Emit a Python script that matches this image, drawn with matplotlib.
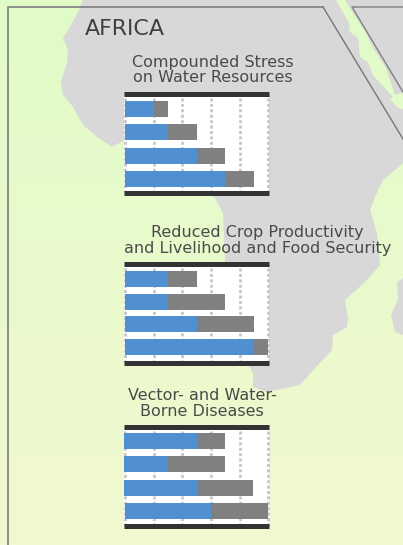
import numpy as np
import matplotlib
matplotlib.use("Agg")
import matplotlib.pyplot as plt

W, H = 403, 545

# Bar values: blue part, and where the grey part ends.
titles = [
    "Compounded Stress\non Water Resources",
    "Reduced Crop Productivity\nand Livelihood and Food Security",
    "Vector- and Water-\nBorne Diseases",
]
blue_end = [
    [1.0, 1.5, 2.5, 3.5],
    [1.5, 1.5, 2.5, 4.45],
    [2.5, 1.5, 2.5, 3.0],
]
grey_end = [
    [1.5, 2.5, 3.5, 4.5],
    [2.5, 3.5, 4.5, 5.0],
    [3.5, 3.5, 4.45, 5.0],
]
bar_start = [
    [0, 0, 0, 0],
    [0, 0, 0, 0],
    [-0.03, -0.03, -0.03, 0],
]
ticks = [0, 1, 2, 3, 4, 5]

# Map outlines, in image pixels.
africa = [(83, 0), (78, 12), (72, 23), (63, 38), (68, 50), (67, 63), (61, 81), (63, 95), (73, 107),
          (83, 125), (97, 137), (112, 147), (125, 140), (160, 150), (195, 180), (215, 198), (223, 213),
          (225, 260), (228, 300), (240, 345), (247, 363), (253, 373), (253, 387), (267, 392), (300, 385),
          (318, 365), (332, 350), (333, 335), (347, 327), (348, 318), (345, 300), (365, 282), (380, 265),
          (377, 233), (370, 210), (378, 190), (383, 180), (403, 163),
          (403, 109), (398, 108), (390, 99), (393, 97), (380, 83), (373, 75), (368, 62), (360, 57),
          (358, 38), (350, 32), (349, 23), (336, 0)]
arabia = [(345, 0), (353, 13), (366, 33), (373, 48), (386, 68), (395, 95), (403, 93), (403, 0)]
madagascar = [(403, 278), (397, 283), (398, 300), (391, 315), (395, 332), (403, 335)]
frame_1 = [(8, 545), (8, 7), (323, 7)]
frame_2 = [(323, 7), (403, 139)]
frame_3 = [(403, 7), (352, 7), (403, 92)]

chart_tops = [94.5, 263.5, 426.5]
chart_height = 99
chart_ylims = [(3.62, -0.62), (3.683, -0.684), (3.62, -0.62)]
bar_heights = [0.686, 0.706, 0.686]
title_y = [62, 232, 395]
title_x = [212.5, 257.5, 202]

fig = plt.figure(figsize=(W / 100, H / 100), dpi=100)

# Map in the background.
bg = fig.add_axes([0, 0, 1, 1])
bg.axis("off")
top = np.array([224, 252, 200]) / 255
bottom = np.array([242, 248, 208]) / 255
grad = np.linspace(0, 1, H)[:, None, None] * (bottom - top) + top
bg.imshow(grad, extent=[0, W, H, 0], aspect="auto", zorder=0)
for outline in [africa, arabia, madagascar]:
    bg.fill(*zip(*outline), color="#d8d8d8", lw=0, zorder=1)
bg.plot(*zip(*frame_1), color="#8c8c8c", lw=1.4, zorder=2)
bg.plot(*zip(*frame_2), color="#777777", lw=1.0, zorder=2)
bg.plot(*zip(*frame_3), color="#808080", lw=1.0, zorder=2)
bg.set_xlim(0, W)
bg.set_ylim(H, 0)

bg.text(85, 29, "AFRICA", fontsize=15.9, color="#404040", va="center", ha="left", zorder=3)

for i in range(3):
    first, second = titles[i].split("\n")
    bg.text(title_x[i], title_y[i], first, fontsize=11.5, color="#4a4a4a",
            ha="center", va="center", zorder=3)
    bg.text(title_x[i], title_y[i] + 16, second, fontsize=11.5, color="#4a4a4a",
            ha="center", va="center", zorder=3)

    ax = fig.add_axes([124 / W, 1 - (chart_tops[i] + chart_height) / H, 145 / W, chart_height / H])
    rows = np.arange(4)
    start = np.array(bar_start[i])
    blue = np.array(blue_end[i])
    grey = np.array(grey_end[i])
    ax.barh(rows, blue - start, left=start, height=bar_heights[i], color="#5090d0", zorder=3)
    ax.barh(rows, grey - blue, left=blue, height=bar_heights[i], color="#808080", zorder=3)
    ax.set_xlim(-0.035, 5.018)
    ax.set_ylim(*chart_ylims[i])
    ax.set_xticks(ticks)
    ax.set_yticks([])
    ax.tick_params(length=0, labelbottom=False)
    ax.grid(axis="x", color="#c4c4c4", lw=1.9, linestyle=(0, (1.15, 0.9)))
    for gl in ax.get_xgridlines():
        gl.set_clip_on(False)
    ax.set_axisbelow(True)
    for side in ["left", "right"]:
        ax.spines[side].set_visible(False)
    for side in ["top", "bottom"]:
        ax.spines[side].set_linewidth(3.6)
        ax.spines[side].set_color("#333333")
        ax.spines[side].set_capstyle("butt")

fig.savefig("out.png", dpi=100)
